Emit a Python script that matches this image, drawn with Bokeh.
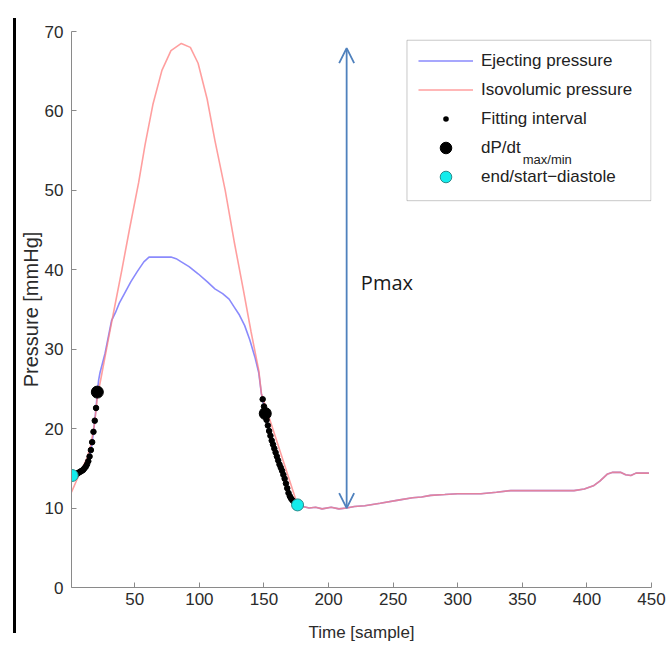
from bokeh.plotting import figure
from bokeh.models import (Legend, LegendItem, Label, Arrow, OpenHead, FixedTicker,
                          Range1d, BoxAnnotation, Div)
from bokeh.layouts import row
from bokeh.embed import file_html
from bokeh.resources import INLINE

# ---------------- data ----------------
# Isovolumic pressure (fitted curve) before the shared diastolic tail
iso_t = [1, 5, 9, 13, 16, 19, 21, 24, 29, 34, 40, 46, 53, 58, 64, 71, 78, 86,
         93, 99, 106, 112, 120, 127, 134, 140, 146, 148]
iso_p = [12.0, 13.5, 14.9, 16.3, 18.0, 20.8, 24.0, 26.5, 30.8, 35.0, 40.0, 45.2,
         51.0, 55.8, 60.8, 65.1, 67.6, 68.5, 68.0, 66.0, 61.5, 56.3, 50.0, 43.5,
         37.5, 32.2, 27.3, 24.4]

# Ejecting pressure during ejection (between the two fitting intervals)
eje_t = [22, 23, 27, 32, 35, 38, 42, 47, 52, 57, 61, 66, 72, 78, 82, 86, 92,
         99, 106, 112, 118, 123, 127, 131, 135, 139, 143, 146, 148]
eje_p = [26.1, 27.0, 29.5, 33.6, 34.6, 35.8, 37.0, 38.5, 39.8, 41.0, 41.6, 41.6,
         41.6, 41.6, 41.4, 41.0, 40.4, 39.5, 38.5, 37.6, 37.0, 36.3, 35.3, 34.3,
         33.0, 31.2, 29.0, 27.0, 24.4]

# Fitting interval (isovolumic contraction / relaxation samples)
fit_up_t = [2, 3, 4, 5, 6, 7, 8, 9, 10, 11, 12, 13, 14, 15, 16, 17, 18, 19, 20]
fit_up_p = [14.1, 14.2, 14.2, 14.3, 14.4, 14.5, 14.6, 14.7, 14.8, 15.0, 15.2,
            15.5, 15.9, 16.5, 17.3, 18.3, 19.6, 21.0, 22.6]
fit_dn_t = [149, 150, 151, 152, 153, 154, 155, 156, 157, 158, 159, 160, 161,
            162, 163, 164, 165, 166, 167, 168, 169, 170, 171, 172, 173, 174, 175]
fit_dn_p = [23.7, 22.8, 21.9, 21.1, 20.4, 19.7, 19.1, 18.5, 18.0, 17.5, 17.0,
            16.5, 16.0, 15.5, 15.1, 14.7, 14.2, 13.7, 13.1, 12.5, 11.9, 11.5,
            11.2, 11.0, 10.8, 10.6, 10.5]

# dP/dt max / min
dpdt_t = [21, 151]
dpdt_p = [24.6, 21.9]

# end / start diastole
dia_t = [1.5, 176]
dia_p = [14.1, 10.4]

# Shared diastolic tail (both curves)
tail_t = [176, 180, 185, 190, 195, 202, 208, 214, 220, 228, 240, 254, 265, 272,
          279, 290, 300, 310, 318, 330, 341, 360, 375, 390, 398, 405, 410, 416,
          420, 426, 430, 434, 438, 448]
tail_p = [10.4, 10.2, 10.0, 10.1, 9.9, 10.1, 9.9, 10.0, 10.2, 10.3, 10.6, 11.0,
          11.3, 11.4, 11.6, 11.7, 11.8, 11.8, 11.8, 12.0, 12.2, 12.2, 12.2, 12.2,
          12.4, 12.8, 13.4, 14.3, 14.5, 14.5, 14.2, 14.1, 14.4, 14.4]

# Pmax arrow
pmax_t = 214
pmax_lo = 10.0
pmax_hi = 67.9

x_ticks = [50, 100, 150, 200, 250, 300, 350, 400, 450]
y_ticks = [0, 10, 20, 30, 40, 50, 60, 70]

# ---------------- series assembly ----------------
red_x = iso_t + tail_t
red_y = iso_p + tail_p
blue_x = [dia_t[0]] + fit_up_t + [dpdt_t[0]] + eje_t + fit_dn_t + tail_t
blue_y = [dia_p[0]] + fit_up_p + [dpdt_p[0]] + eje_p + fit_dn_p + tail_p

FONT = "Liberation Sans"
BLUE = "#7d7dfc"
RED = "#ff7f7f"
AX = "#8a8a8a"
TXT = "#2b2b2b"
NAN = float("nan")

p = figure(width=651, height=645, output_backend="svg", toolbar_location=None,
           x_range=Range1d(1, 450), y_range=Range1d(0, 70),
           min_border_left=54, min_border_right=16, min_border_top=31,
           min_border_bottom=58)
p.outline_line_color = None
p.grid.visible = False

for ax in (p.xaxis[0], p.yaxis[0]):
    ax.axis_line_color = AX
    ax.major_tick_line_color = AX
    ax.minor_tick_line_color = None
    ax.major_tick_in = 5
    ax.major_tick_out = 0
    ax.major_label_text_font = FONT
    ax.major_label_text_font_size = "17px"
    ax.major_label_text_color = TXT
    ax.axis_label_text_font = FONT
    ax.axis_label_text_font_size = "17px"
    ax.axis_label_text_font_style = "normal"
    ax.axis_label_text_color = TXT

p.xaxis.ticker = FixedTicker(ticks=x_ticks)
p.yaxis.ticker = FixedTicker(ticks=y_ticks)
p.xaxis.axis_label = "Time [sample]"
p.yaxis.axis_label = "Pressure [mmHg]"
p.yaxis.axis_label_text_font_size = "20px"
p.xaxis.major_label_standoff = 5
p.xaxis.axis_label_standoff = 15
p.yaxis.major_label_standoff = 8
p.yaxis.axis_label_standoff = 0

# legend frame (drawn underneath everything)
p.add_layout(BoxAnnotation(left=260.7, right=449.6, bottom=48.7, top=68.9,
                           fill_color="white", fill_alpha=1.0,
                           line_color="#4a4a4a", line_width=1, level="underlay"))

r_blue = p.line(blue_x, blue_y, line_color=BLUE, line_width=1.6, line_alpha=0.9)
r_red = p.line(red_x, red_y, line_color=RED, line_width=1.6, line_alpha=0.75)
p.scatter(fit_up_t + fit_dn_t, fit_up_p + fit_dn_p, size=5.5,
          fill_color="black", line_color="black")
r_dpdt = p.scatter(dpdt_t, dpdt_p, size=12, fill_color="black", line_color="black")
r_dia = p.scatter(dia_t, dia_p, size=12, fill_color="#14ecec", line_color="#2a8c8c",
                  line_width=1)
# legend-only swatch for the small fitting dots (NaN point: nothing drawn in plot)
r_fit_key = p.scatter([NAN], [NAN], size=11, fill_color="black",
                      line_color="white", line_width=6)

# Pmax arrow and label
ac = "#4f81bd"
p.add_layout(Arrow(x_start=pmax_t, y_start=pmax_lo, x_end=pmax_t, y_end=pmax_hi,
                   line_color=ac, line_width=1.8,
                   start=OpenHead(size=15, line_color=ac, line_width=1.8),
                   end=OpenHead(size=15, line_color=ac, line_width=1.8)))
p.add_layout(Label(x=pmax_t + 11, y=(pmax_lo + pmax_hi) / 2 - 0.6, text="Pmax",
                   text_font="Open Sans", text_font_size="20px",
                   text_color="#1a1a1a", text_baseline="middle"))

# subscript of dP/dt in the legend
p.add_layout(Label(x=350.3, y=53.9, text="max/min", text_font=FONT,
                   text_font_size="13px", text_color="#222222",
                   text_baseline="middle"))

legend = Legend(items=[
    LegendItem(label="Ejecting pressure", renderers=[r_blue]),
    LegendItem(label="Isovolumic pressure", renderers=[r_red]),
    LegendItem(label="Fitting interval", renderers=[r_fit_key]),
    LegendItem(label="dP/dt", renderers=[r_dpdt]),
    LegendItem(label="end/start\u2212diastole", renderers=[r_dia]),
], location=(347, 396))
legend.padding = 0
legend.spacing = 0
legend.glyph_width = 55
legend.glyph_height = 29
legend.label_height = 20
legend.label_standoff = 8
legend.label_text_font = FONT
legend.label_text_font_size = "17px"
legend.label_text_color = "#222222"
legend.border_line_color = None
legend.background_fill_alpha = 0.0
legend.margin = 0
p.add_layout(legend)

# black edge line at the far left of the picture
edge = Div(text='<div style="padding:18px 0 0 13px"><div style="width:3px;'
                'height:615px;background:#000"></div></div>',
           width=16, height=645, margin=0)

layout = row(edge, p)
open("out.html", "w").write(file_html(layout, INLINE))
